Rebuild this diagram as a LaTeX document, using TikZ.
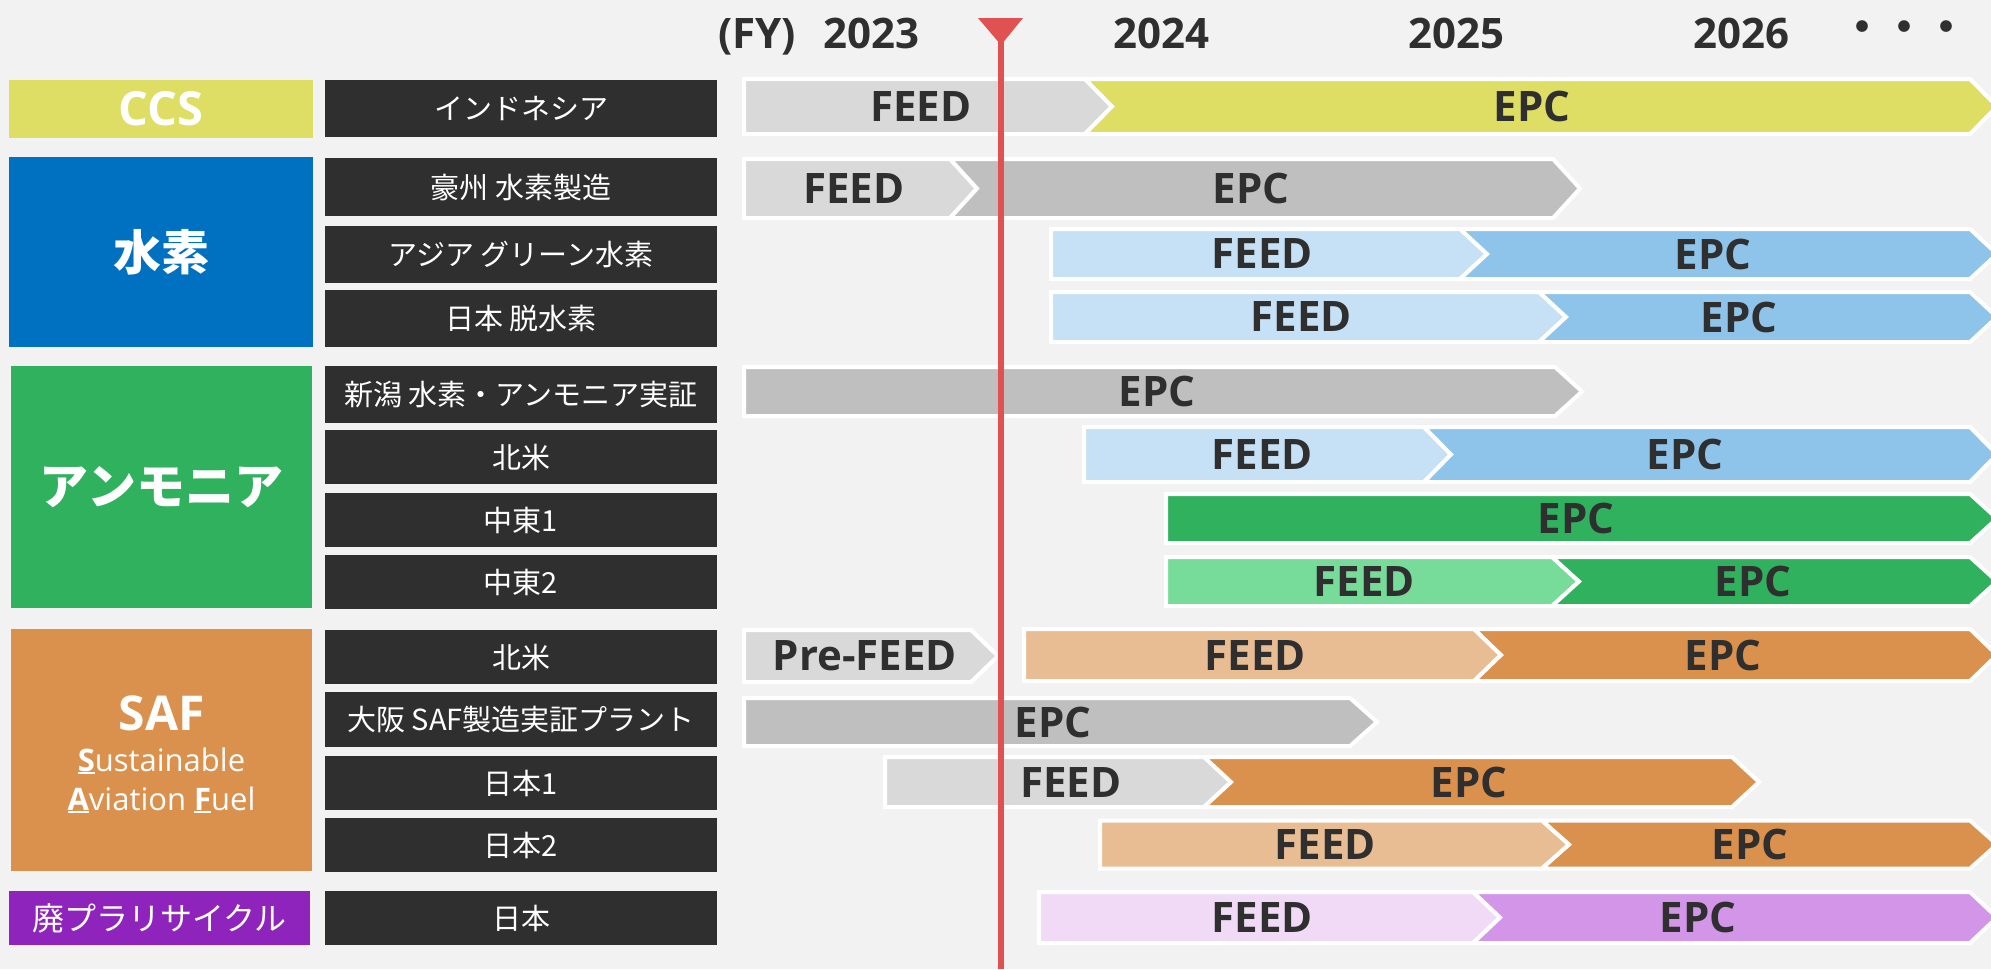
\documentclass[tikz,border=0pt]{standalone}
\usepackage{fontspec}
\setmainfont{Open Sans}
\newfontfamily\jp{Noto Sans CJK JP}
\definecolor{bgc}{HTML}{F2F2F2}
\definecolor{darkc}{HTML}{2F2F2F}
\definecolor{txtc}{HTML}{2F2F2F}
\definecolor{ccsc}{HTML}{DEDE64}
\definecolor{h2c}{HTML}{0070C0}
\definecolor{nh3c}{HTML}{2FB15E}
\definecolor{safc}{HTML}{DB914E}
\definecolor{plac}{HTML}{8E24BC}
\definecolor{lgray}{HTML}{D9D9D9}
\definecolor{mgray}{HTML}{BFBFBF}
\definecolor{lblue}{HTML}{C6E0F5}
\definecolor{mblue}{HTML}{8EC4EA}
\definecolor{lgreen}{HTML}{77DB9A}
\definecolor{mgreen}{HTML}{2FB15E}
\definecolor{lorange}{HTML}{E9BD94}
\definecolor{morange}{HTML}{DB914E}
\definecolor{lpurple}{HTML}{F0DAF6}
\definecolor{mpurple}{HTML}{D395E8}
\definecolor{redc}{HTML}{E05252}
\newcommand{\segF}[5]{\filldraw[segline, fill=#5] (#1,#3-#4) -- (#2,#3-#4) -- (#2+27,#3) -- (#2,#3+#4) -- (#1,#3+#4) -- cycle;}
\newcommand{\segN}[5]{\filldraw[segline, fill=#5] (#1,#3-#4) -- (#2,#3-#4) -- (#2+27,#3) -- (#2,#3+#4) -- (#1,#3+#4) -- (#1+27,#3) -- cycle;}
\newcommand{\ulb}[1]{\setbox0\hbox{\bfseries #1}\rlap{\rule[-0.11em]{\wd0}{0.075em}}\box0}
\tikzset{
  segline/.style={draw=white, line width=4pt, line join=miter},
  catbox/.style={draw=none, inner sep=0pt, text=white},
  darkbox/.style={fill=darkc, draw=none, inner sep=0pt, text=white, minimum width=392pt, font=\jp\fontsize{29}{34}\selectfont},
  lbl/.style={inner sep=0pt, text=txtc, font=\bfseries\fontsize{42}{48}\selectfont},
  yr/.style={inner sep=0pt, text=txtc, font=\bfseries\fontsize{42}{48}\selectfont, anchor=base},
}
\begin{document}
\begin{tikzpicture}[x=1pt,y=-1pt]
\useasboundingbox (0,0) rectangle (1991,969);
\fill[bgc] (0,0) rectangle (1991,969);

% header
\node[yr] (fy) at (757,48) {(FY)};
\node[yr] (y23) at (871,48) {2023};
\node[yr] (y24) at (1161,48) {2024};
\node[yr] (y25) at (1456,48) {2025};
\node[yr] (y26) at (1741,48) {2026};
\node[yr, font=\jp\bfseries\fontsize{42}{48}\selectfont] (dots) at (1904,42) {・・・};

% category boxes
\node[catbox, fill=ccsc, minimum width=304pt, minimum height=58pt, font=\bfseries\fontsize{47}{52}\selectfont] (ccs) at (161,109) {CCS};
\node[catbox, fill=h2c, minimum width=304pt, minimum height=190pt, font=\jp\bfseries\fontsize{48}{52}\selectfont] (h2) at (161,252) {水素};
\node[catbox, fill=nh3c, minimum width=301pt, minimum height=242pt, font=\jp\bfseries\fontsize{49}{54}\selectfont] (nh3) at (161.5,487) {アンモニア};
\node[catbox, fill=safc, minimum width=301pt, minimum height=242pt] (saf) at (161.5,750) {};
\node[catbox, font=\bfseries\fontsize{48}{52}\selectfont] (saft) at (161.5,713) {SAF};
\node[catbox, font=\fontsize{31}{36}\selectfont] (saf1) at (161.5,761) {\ulb{S}ustainable};
\node[catbox, font=\fontsize{31}{36}\selectfont] (saf2) at (161.5,800) {\ulb{A}viation \ulb{F}uel};
\node[catbox, fill=plac, minimum width=301pt, minimum height=54pt, font=\jp\fontsize{32}{36}\selectfont] (pla) at (159.5,918) {廃プラリサイクル};

% project boxes
\node[darkbox, minimum height=57pt] (p1) at (521,108.5) {インドネシア};
\node[darkbox, minimum height=58pt] (p2) at (521,187) {豪州 水素製造};
\node[darkbox, minimum height=57pt] (p3) at (521,254.5) {アジア グリーン水素};
\node[darkbox, minimum height=57pt] (p4) at (521,318.5) {日本 脱水素};
\node[darkbox, minimum height=57pt] (p5) at (521,394.5) {新潟 水素・アンモニア実証};
\node[darkbox, minimum height=54pt] (p6) at (521,457) {北米};
\node[darkbox, minimum height=54pt] (p7) at (521,520) {中東1};
\node[darkbox, minimum height=54pt] (p8) at (521,582) {中東2};
\node[darkbox, minimum height=54pt] (p9) at (521,657) {北米};
\node[darkbox, minimum height=55pt] (p10) at (521,719.5) {大阪 SAF製造実証プラント};
\node[darkbox, minimum height=54pt] (p11) at (521,783) {日本1};
\node[darkbox, minimum height=54pt] (p12) at (521,845) {日本2};
\node[darkbox, minimum height=54pt] (p13) at (521,918) {日本};

% timeline bars
\segF{744}{1085}{106.5}{27.5}{lgray}
\segN{1085}{1970}{106.5}{27.5}{ccsc}
\node[lbl] (r1a) at (921,106.5) {FEED};
\node[lbl] (r1b) at (1532,106.5) {EPC};

\segF{744}{950}{188.5}{29.5}{lgray}
\segN{950}{1553}{188.5}{29.5}{mgray}
\node[lbl] (r2a) at (854,188.5) {FEED};
\node[lbl] (r2b) at (1251,188.5) {EPC};

\segF{1051}{1460}{254}{25}{lblue}
\segN{1460}{1970}{254}{25}{mblue}
\node[lbl] (r3a) at (1262,254) {FEED};
\node[lbl] (r3b) at (1713,254) {EPC};

\segF{1051}{1539}{317}{25}{lblue}
\segN{1539}{1970}{317}{25}{mblue}
\node[lbl] (r4a) at (1301,317) {FEED};
\node[lbl] (r4b) at (1739,317) {EPC};

\segF{744}{1555}{391.5}{24.5}{mgray}
\node[lbl] (r5a) at (1157,391.5) {EPC};

\segF{1084}{1424}{454.5}{27.5}{lblue}
\segN{1424}{1970}{454.5}{27.5}{mblue}
\node[lbl] (r6a) at (1262,454.5) {FEED};
\node[lbl] (r6b) at (1685,454.5) {EPC};

\segF{1166}{1970}{518.5}{24.5}{mgreen}
\node[lbl] (r7a) at (1576,518.5) {EPC};

\segF{1166}{1552}{581.5}{24.5}{lgreen}
\segN{1552}{1970}{581.5}{24.5}{mgreen}
\node[lbl] (r8a) at (1364,581.5) {FEED};
\node[lbl] (r8b) at (1753,581.5) {EPC};

\segF{744}{971}{656}{26}{lgray}
\segF{1024}{1474}{655}{26}{lorange}
\segN{1474}{1970}{655}{26}{morange}
\node[lbl] (r9a) at (865,656) {Pre-FEED};
\node[lbl] (r9b) at (1255,655) {FEED};
\node[lbl] (r9c) at (1723,655) {EPC};

\segF{744}{1350}{722}{24}{mgray}
\node[lbl] (r10a) at (1053,722) {EPC};

\segF{885}{1204}{782}{25}{lgray}
\segN{1204}{1732}{782}{25}{morange}
\node[lbl] (r11a) at (1071,782) {FEED};
\node[lbl] (r11b) at (1469,782) {EPC};

\segF{1100}{1542}{844.5}{24}{lorange}
\segN{1542}{1970}{844.5}{24}{morange}
\node[lbl] (r12a) at (1325,844.5) {FEED};
\node[lbl] (r12b) at (1750,844.5) {EPC};

\segF{1039}{1473}{917.5}{25.5}{lpurple}
\segN{1473}{1970}{917.5}{25.5}{mpurple}
\node[lbl] (r13a) at (1262,917.5) {FEED};
\node[lbl] (r13b) at (1698,917.5) {EPC};

% current date marker
\coordinate (mtop) at (1001,40);
\coordinate (mbot) at (1001,969);
\draw[redc, line width=6pt] (mtop) -- (mbot);
\fill[redc] (978,18) -- (1023,18) -- (1001,45) -- cycle;
\end{tikzpicture}
\end{document}
